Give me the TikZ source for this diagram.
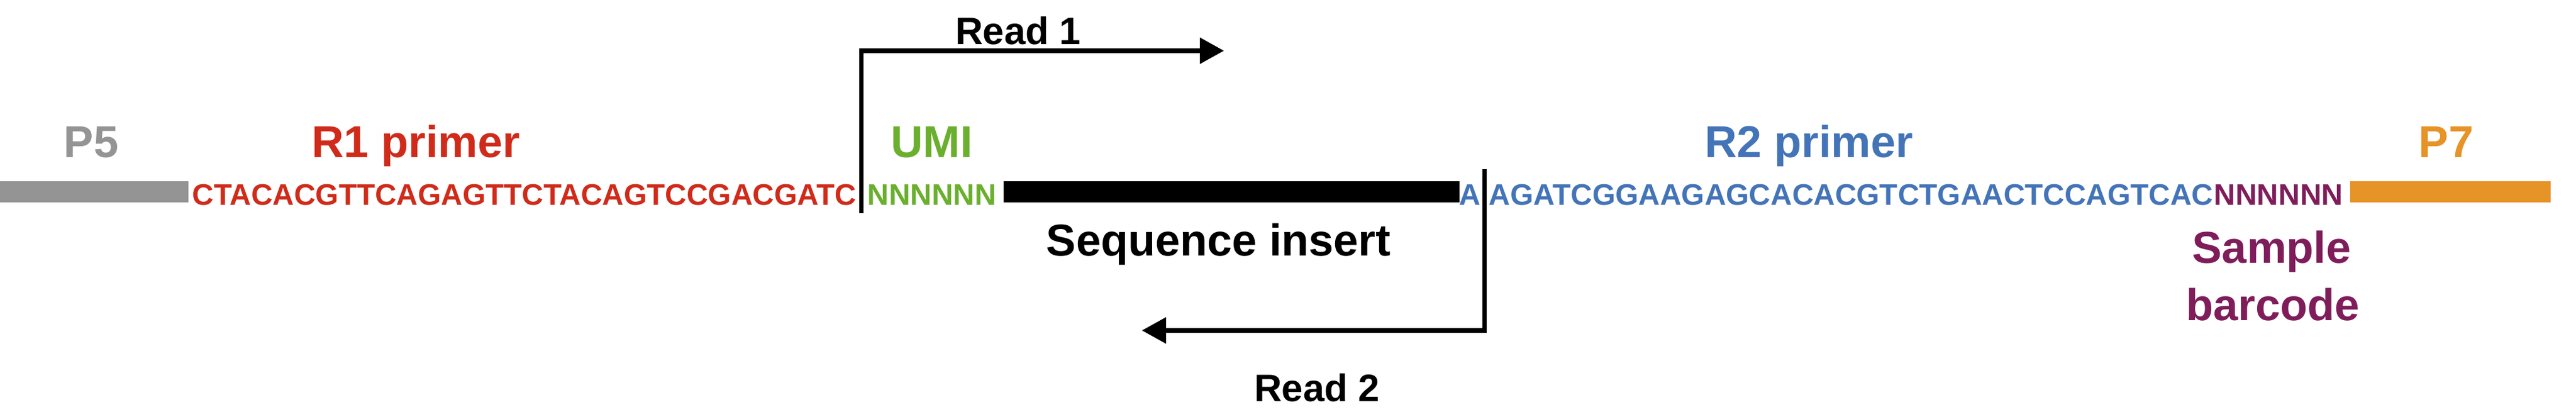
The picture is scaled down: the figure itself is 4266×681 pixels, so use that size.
\documentclass[tikz,border=0pt]{standalone}
\usepackage{fontspec}
\setmainfont{Liberation Sans}
\usetikzlibrary{arrows.meta}
\definecolor{pfivegray}{RGB}{148,148,148}
\definecolor{ronered}{RGB}{208,43,26}
\definecolor{umigreen}{RGB}{106,175,46}
\definecolor{rtwoblue}{RGB}{68,116,184}
\definecolor{bcpurple}{RGB}{127,29,91}
\definecolor{pseven}{RGB}{230,147,39}
\tikzset{
	lbl/.style={inner sep=0pt, anchor=base, font=\fontsize{21}{25}\selectfont\bfseries},
	readlbl/.style={inner sep=0pt, anchor=base, font=\fontsize{18}{22}\selectfont\bfseries},
	seq/.style={inner sep=0pt, anchor=base west, font=\fontsize{14}{17}\selectfont\bfseries},
	readline/.style={line width=2pt, -{Triangle[length=0.4cm,width=0.42cm]}}
}

\begin{document}
\begin{tikzpicture}[x=0.01cm, y=0.01cm]
		%%%%% START %%%%%
		\useasboundingbox (0, 0) rectangle (4266, 681);
		
		\draw[fill=pfivegray, color=pfivegray] (0, 347) rectangle (311, 380);
		\node[lbl, color=pfivegray] (p5label) at (151, 421) {P5};
		
		\node[seq, color=ronered] (r1seq) at (318, 342) {CTACACGTTCAGAGTTCTACAGTCCGACGATC};
		\node[lbl, color=ronered] (r1label) at (689, 421) {R1 primer};
		
		\node[seq, color=umigreen] (umiseq) at (1436, 342) {NNNNNN};
		\node[lbl, color=umigreen] (umilabel) at (1543, 421) {UMI};
		
		\draw[fill=black] (1663, 347) rectangle (2416, 380);
		\node[lbl] (insertlabel) at (2018, 258) {Sequence insert};
		
		\node[seq, color=rtwoblue] (aseq) at (2416, 342) {A};
		\node[seq, color=rtwoblue] (r2seq) at (2465, 342) {AGATCGGAAGAGCACACGTCTGAACTCCAGTCAC};
		\node[lbl, color=rtwoblue] (r2label) at (2996, 421) {R2 primer};
		
		\node[seq, color=bcpurple] (bcseq) at (r2seq.base east) {NNNNNN};
		\node[lbl, color=bcpurple] (bclabel) at (3762, 246) {Sample};
		\node[lbl, color=bcpurple] (bclabeltwo) at (3764, 151) {barcode};
		
		\draw[fill=pseven, color=pseven] (3893, 347) rectangle (4223, 380);
		\node[lbl, color=pseven] (p7label) at (4051, 421) {P7};
		
		% read 1
		\coordinate (rone) at (1426, 328);
		\coordinate (ronetip) at (2027, 597);
		\draw[readline] (rone) |- (ronetip);
		\node[readlbl] (ronelabel) at (1686, 608) {Read 1};
		
		% read 2
		\coordinate (rtwo) at (2458, 401);
		\coordinate (rtwotip) at (1891, 134);
		\draw[readline] (rtwo) |- (rtwotip);
		\node[readlbl] (rtwolabel) at (2181, 17) {Read 2};
		
		%%%%% END %%%%%
	\end{tikzpicture}
\end{document}
